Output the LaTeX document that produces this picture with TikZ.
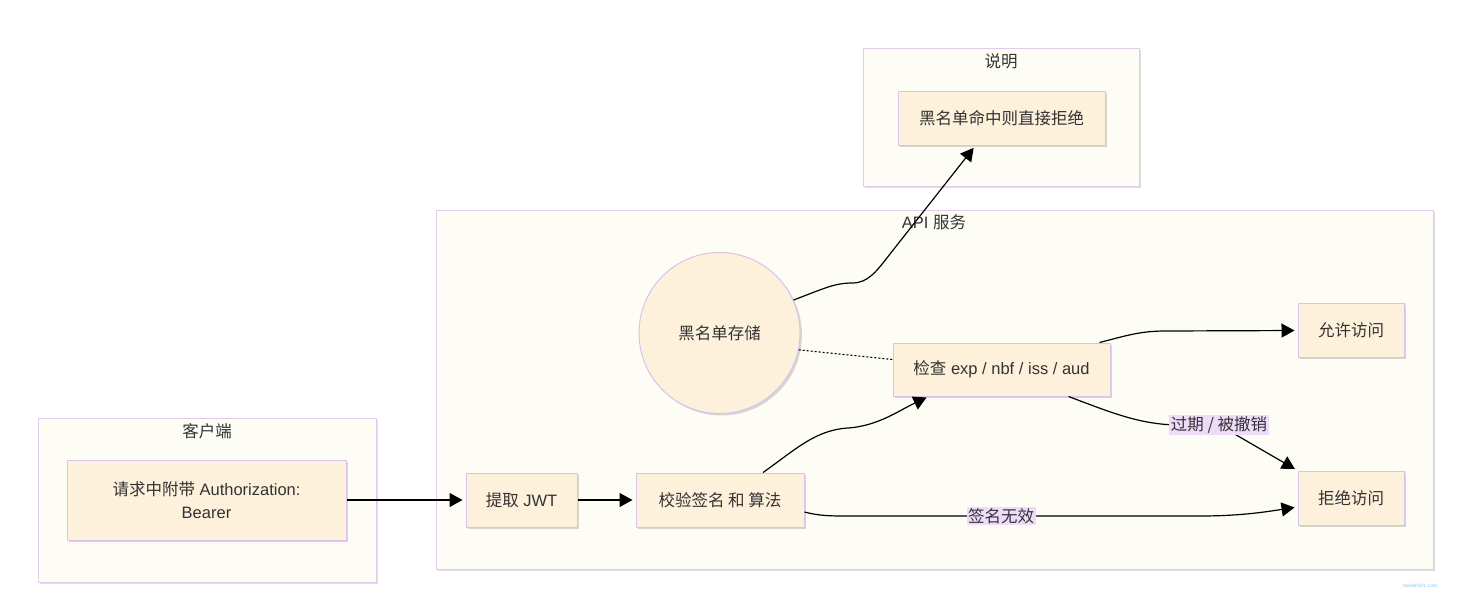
\documentclass[tikz,border=0pt]{standalone}
\usepackage{fontspec}
\setmainfont{Liberation Sans}
\newfontfamily\cjk{Noto Sans CJK SC}
\usetikzlibrary{arrows.meta,shadows}
\definecolor{clfill}{HTML}{FDFDF5}
\definecolor{clborder}{HTML}{E2CCEE}
\definecolor{nodefill}{HTML}{FDF1DC}
\definecolor{nodeborder}{HTML}{D9C3EC}
\definecolor{lblfill}{HTML}{EEDBFA}
\definecolor{txt}{HTML}{333333}
\definecolor{wm}{HTML}{8CC6F0}
\tikzset{
  every node/.style={font=\fontsize{16.5}{23}\selectfont, text=txt},
  cluster/.style={draw=clborder, fill=clfill, line width=1pt, inner sep=0pt,
    drop shadow={shadow xshift=1.5pt, shadow yshift=-1.5pt, opacity=0.12, fill=black}},
  box/.style={draw=nodeborder, fill=nodefill, line width=1pt, inner sep=0pt, align=center,
    drop shadow={shadow xshift=2pt, shadow yshift=-2pt, opacity=0.15, fill=black}},
  roundbox/.style={circle, draw=nodeborder, fill=nodefill, line width=1pt, inner sep=0pt,
    drop shadow={shadow xshift=2pt, shadow yshift=-2pt, opacity=0.15, fill=black}},
  ttl/.style={inner sep=0pt},
  lbl/.style={fill=lblfill, inner sep=1.5pt},
  arr/.style={draw=black, line width=1.2pt, shorten >=3pt, -{Triangle[length=13pt, width=14pt]}},
  dotlink/.style={draw=black, line width=1.1pt, dash pattern=on 2pt off 2pt},
}
\begin{document}
\begin{tikzpicture}[x=1pt, y=-1pt]
\useasboundingbox (0,0) rectangle (1462,603);
\fill[white] (0,0) rectangle (1462,603);

% clusters
\node[cluster, minimum width=276pt, minimum height=138pt] (clnote) at (1001,117) {};
\node[ttl] (tnote) at (1001,61) {{\cjk 说明}};
\node[cluster, minimum width=997pt, minimum height=359pt] (clapi) at (934.5,389.5) {};
\node[ttl] (tapi) at (934,222) {API {\cjk 服务}};
\node[cluster, minimum width=338pt, minimum height=164pt] (clclient) at (207,500) {};
\node[ttl] (tclient) at (207,431) {{\cjk 客户端}};

% nodes
\node[box, minimum width=207pt, minimum height=54pt] (note) at (1001.5,118) {{\cjk 黑名单命中则直接拒绝}};
\node[box, minimum width=279pt, minimum height=80pt] (req) at (206.5,500) {{\cjk 请求中附带} Authorization:\\Bearer};
\node[box, minimum width=111pt, minimum height=54pt] (jwt) at (521.5,500) {{\cjk 提取} JWT};
\node[box, minimum width=168pt, minimum height=54pt] (sig) at (720,500) {{\cjk 校验签名 和 算法}};
\node[box, minimum width=217pt, minimum height=53pt] (check) at (1001.5,369.5) {{\cjk 检查} exp / nbf / iss / aud};
\node[box, minimum width=106pt, minimum height=54pt] (allow) at (1351,330) {{\cjk 允许访问}};
\node[box, minimum width=106pt, minimum height=54pt] (deny) at (1351,498) {{\cjk 拒绝访问}};
\node[roundbox, minimum size=161pt] (store) at (719.5,333) {{\cjk 黑名单存储}};

% edges
\draw[arr] (req.east) -- (jwt.west);
\draw[arr] (jwt.east) -- (sig.west);
\draw[arr, shorten >=0pt] ([xshift=43pt]sig.north) .. controls (795,450) and (815,430) .. (848,428)
  .. controls (878,426) and (900,410) .. ([xshift=-75pt,yshift=-1pt]check.south);
\draw[arr] ([xshift=98pt]check.north) .. controls (1125,336) and (1140,331) .. (1165,331) -- ([yshift=-0.5pt]allow.west);
\draw[arr] ([xshift=67pt]check.south) .. controls (1110,412) and (1140,425) .. (1180,425) -- (1219,425) -- (deny.north west);
\node[lbl] (lexp) at (1219,425) {{\cjk 过期 / 被撤销}};
\draw[arr] ([yshift=-12pt]sig.east) .. controls (820,516) and (830,516) .. (850,516) -- (1200,516)
  .. controls (1240,516) and (1265,512) .. ([yshift=-9pt]deny.west);
\node[lbl] (lsig) at (1001,516) {{\cjk 签名无效}};
\draw[arr] (store.24) .. controls (825,288) and (835,283) .. (852,283)
  .. controls (868,283) and (876,272) .. (890,254) -- ([xshift=-26pt]note.south);
\draw[dotlink] (store.-12) -- ([yshift=10pt]check.west);

\node[inner sep=0pt, font=\fontsize{5}{6}\selectfont, text=wm] (wmark) at (1420,586) {maolin101.com};
\end{tikzpicture}
\end{document}
